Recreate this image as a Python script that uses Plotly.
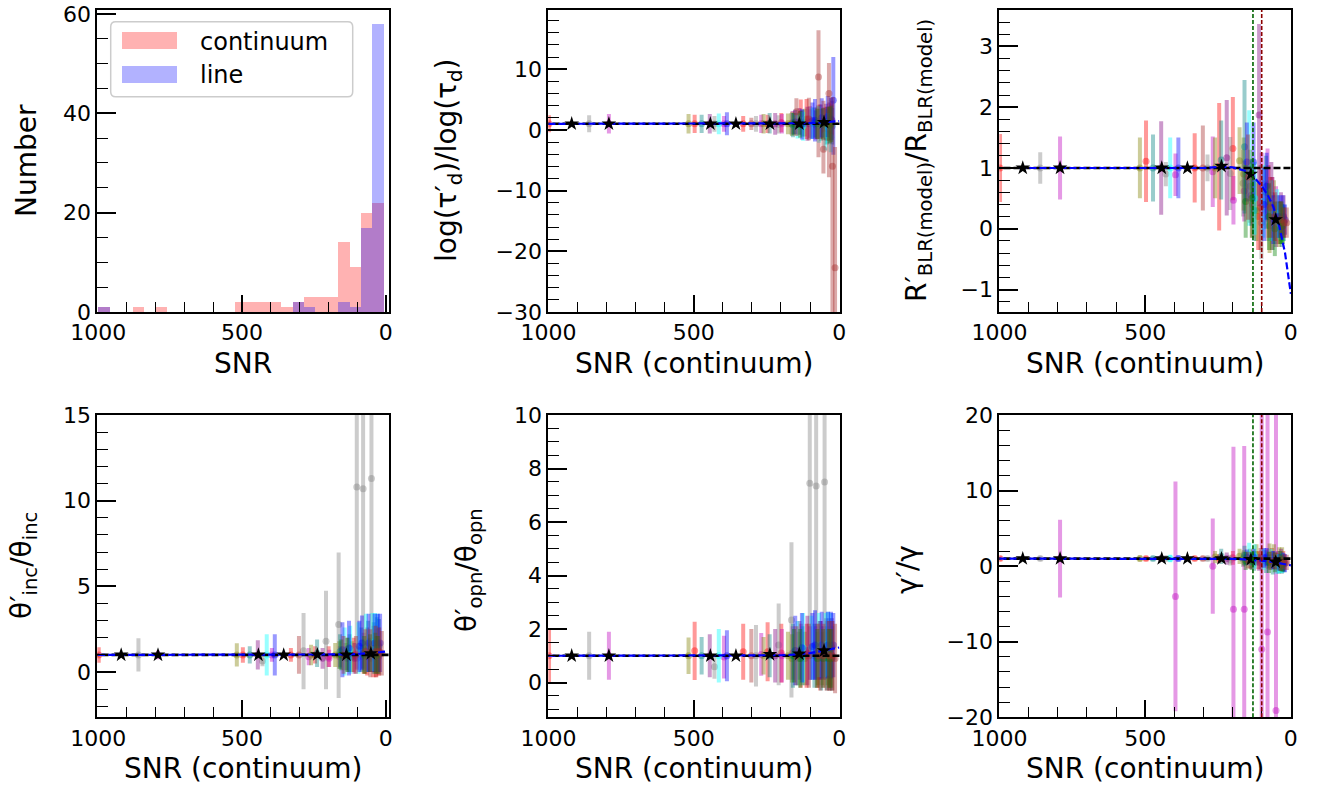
import plotly.graph_objects as go

# ---------------- data ----------------
snr_cont = [998, 860, 792, 518, 497, 473, 445, 429, 414, 396, 386, 330, 302, 286, 268, 260, 246, 239, 220, 208, 199, 197, 176,
            164, 160, 159, 155, 151, 147, 143, 140, 136, 132, 128, 126,
            124, 118, 112, 109, 104, 101, 100, 92,
            85, 83, 80, 79, 77, 75, 73, 71, 69, 67, 65, 62, 60, 58, 55, 54, 51, 50, 47,
            45, 43, 42, 40, 39, 38, 36, 35, 34, 33, 31, 30, 29, 28, 27, 26, 25, 24, 23, 20, 14,
            162, 134, 95, 63, 32]

snr_line = [995, 310, 295, 270, 150, 130, 100,
            84, 80, 77, 74, 71, 68, 66, 63, 61, 59, 57, 55, 53, 51, 49, 48, 46,
            45, 44, 44, 43, 42, 42, 41, 40, 40, 39, 38, 38, 37, 36, 36, 35, 34, 34, 33, 32,
            32, 31, 30, 30, 29, 28, 28, 27, 26, 26, 25, 24, 24, 23, 22, 22, 21, 20, 20, 19,
            18, 18, 17, 16, 16, 15, 14, 14, 13, 12, 12, 11, 10, 10, 9, 8, 8, 7]

point_color = ['red', 'gray', 'm', 'olive', 'red', 'teal', 'purple', 'gray', 'cyan', 'm', 'blue', 'red', 'brown', 'gray',
               'm', 'olive', 'red', 'teal', 'purple', 'gray', 'red', 'm', 'olive',
               'gray', 'm', 'teal', 'green', 'blue', 'brown', 'cyan', 'olive', 'purple', 'red', 'blue', 'teal',
               'cyan', 'olive', 'red', 'purple', 'brown', 'gray', 'm', 'blue',
               'teal', 'blue', 'm', 'gray', 'red', 'green', 'olive', 'brown', 'cyan', 'purple', 'red', 'teal', 'blue',
               'olive', 'green', 'brown', 'm', 'gray', 'cyan',
               'purple', 'red', 'teal', 'olive', 'blue', 'cyan', 'green', 'brown', 'purple', 'red', 'teal', 'olive',
               'cyan', 'blue', 'green', 'red', 'purple', 'teal', 'brown', 'blue', 'brown',
               'olive', 'green', 'cyan', 'purple', 'green']

# log(tau'_d)/log(tau_d)
p2_y = [1.0, 1.0, 1.0, 1.0, 1.0, 1.0, 1.0, 1.0, 1.0, 1.0, 1.0, 1.0, 1.0, 1.0, 1.0, 1.0, 1.0, 1.1, 1.0, 0.9, 1.2, 1.0, 1.0,
        1.0, 1.2, 0.8, 1.0, 1.3, 3.0, 0.7, 1.0, 1.4, 2.6, 0.9, 1.1,
        0.6, 1.2, 1.8, 1.0, 1.8, 1.0, 1.3, 1.5,
        1.2, 1.6, 0.8, 1.0, 1.1, 1.0, 1.3, 8.7, 0.9, 1.4, 1.0, 0.8, 2.0, 1.1, 1.0, -3.2, 1.2, 1.0, -0.8,
        1.3, 1.0, 0.5, 1.2, 2.2, 0.3, 1.0, 6.0, 1.5, 1.0, 0.7, 1.1, -1.2, 1.8, 1.0, 1.3, 1.6, 0.6, -6.0, 4.9, -22.7,
        1.0, 0.9, 1.1, 1.4, 0.8]
p2_lo = [1.4, 1.4, 1.6, 1.6, 1.5, 1.5, 1.6, 1.3, 1.7, 1.3, 1.9, 1.3, 1.0, 1.3, 1.5, 1.6, 1.5, 1.7, 1.8, 1.5, 1.6, 1.6, 1.7,
         1.8, 1.9, 2.0, 1.8, 2.0, 4.0, 2.1, 1.8, 2.2, 2.4, 2.5, 2.2,
         2.4, 2.3, 3.3, 2.8, 3.5, 2.4, 2.6, 3.0,
         2.5, 3.5, 2.4, 2.2, 2.6, 2.5, 2.7, 13.2, 3.0, 2.8, 2.5, 2.6, 3.2, 2.4, 2.6, 4.0, 2.5, 2.7, 2.6,
         3.0, 2.8, 2.9, 2.6, 3.4, 2.5, 2.8, 13.8, 3.0, 2.7, 3.0, 2.8, 2.5, 3.5, 3.0, 3.0, 3.2, 3.0, 25.0, 9.0, 10.0,
         2.0, 2.2, 2.6, 2.8, 3.0]
p2_hi = [1.4, 1.4, 1.6, 1.6, 1.5, 1.5, 1.6, 1.3, 1.7, 1.3, 1.9, 1.3, 1.0, 1.3, 1.5, 1.6, 1.5, 1.7, 1.8, 1.5, 1.6, 1.6, 1.7,
         1.8, 1.9, 2.0, 1.8, 2.0, 2.2, 2.1, 1.8, 2.2, 2.4, 2.5, 2.2,
         2.4, 2.3, 3.3, 2.8, 3.5, 2.4, 2.6, 3.0,
         2.5, 3.5, 2.4, 2.2, 2.6, 2.5, 2.7, 7.7, 3.0, 2.8, 2.5, 2.6, 3.2, 2.4, 2.6, 8.0, 2.5, 2.7, 2.6,
         3.0, 2.8, 2.9, 2.6, 3.4, 2.5, 2.8, 5.0, 3.0, 2.7, 3.0, 2.8, 2.5, 3.5, 3.0, 3.0, 3.2, 3.0, 11.4, 7.1, 19.9,
         2.0, 2.2, 2.6, 2.8, 3.0]

# R'_BLR / R_BLR
p3_y = [1.0, 1.0, 1.0, 1.0, 1.11, 1.0, 1.0, 0.9, 1.0, 0.89, 1.0, 1.0, 1.0, 1.0, 0.94, 1.0, 1.02, 1.13, 1.17, 0.91, 1.32, 0.47, 1.12,
        0.75, 0.62, 1.35, 0.45, 1.1, 0.85, 1.0, 0.7, 0.55, 0.4, 1.1, 0.3,
        0.5, 0.3, 0.2, 1.87, 0.35, 0.1, 0.75, 0.4,
        0.6, 0.7, 0.72, 0.3, 0.45, 0.2, 0.05, 0.35, 0.3, 0.55, 0.25, 0.1, 0.15, 0.3, 0.0, 0.2, 0.2, 0.1, 0.25,
        0.2, 0.1, 0.15, 0.05, 0.2, 0.12, 0.1, 0.15, 0.25, 0.1, 0.05, 0.15, 0.1, 0.2, 0.05, 0.12, 0.2, 0.1, 0.1, 0.15, 0.1,
        0.9, 0.5, 0.45, 0.35, 0.1]
p3_err = [0.56, 0.26, 0.52, 0.5, 0.67, 0.55, 0.77, 0.2, 0.5, 0.35, 0.5, 0.57, 0.7, 0.22, 0.58, 0.5, 1.05, 0.65, 0.95, 0.6, 0.85, 0.4, 0.55,
          0.55, 0.5, 1.1, 0.6, 0.65, 0.7, 0.95, 0.6, 0.5, 0.55, 0.65, 0.5,
          0.6, 0.5, 0.55, 1.5, 0.7, 0.6, 0.5, 0.6,
          0.6, 0.55, 0.6, 0.5, 0.6, 0.55, 0.45, 0.5, 0.5, 0.55, 0.6, 0.45, 0.4, 0.5, 0.45, 0.4, 0.5, 0.35, 0.4,
          0.35, 0.35, 0.3, 0.35, 0.35, 0.3, 0.35, 0.3, 0.35, 0.3, 0.35, 0.25, 0.3, 0.35, 0.3, 0.25, 0.35, 0.3, 0.25, 0.25, 0.25,
          0.6, 0.65, 0.6, 0.5, 0.35]

# theta'_inc / theta_inc
p4_y = [1.0, 1.0, 1.0, 1.0, 1.0, 1.0, 1.0, 0.64, 1.0, 1.0, 1.0, 1.0, 1.0, 1.24, 0.9, 1.0, 1.0, 1.1, 0.8, 1.8, 0.9, 0.8, 1.0,
        2.78, 0.9, 1.2, 1.0, 1.3, 1.0, 1.2, 0.9, 0.8, 1.0, 1.4, 1.1,
        1.3, 0.9, 1.0, 0.8, 1.0, 10.8, 0.8, 1.5,
        1.3, 1.7, 0.9, 10.7, 1.1, 1.0, 0.9, 1.2, 1.7, 0.9, 1.2, 1.5, 1.7, 1.0, 1.1, 1.1, 0.8, 11.3, 1.75,
        0.9, 1.2, 1.4, 1.0, 1.7, 1.75, 1.1, 1.2, 0.9, 1.1, 1.6, 1.0, 1.7, 1.7, 1.0, 1.2, 0.9, 1.5, 1.2, 1.7, 1.1,
        1.0, 1.0, 1.4, 0.9, 1.0]
p4_lo = [0.45, 0.97, 0.25, 0.68, 0.45, 0.5, 0.85, 0.3, 1.2, 0.4, 1.2, 0.4, 1.1, 2.24, 0.5, 0.6, 0.5, 0.8, 0.6, 2.8, 0.6, 0.5, 0.7,
         4.3, 0.6, 1.0, 0.9, 1.6, 1.1, 1.4, 0.8, 0.7, 1.0, 1.6, 1.1,
         1.4, 0.9, 1.0, 0.9, 1.1, 10.6, 0.7, 1.5,
         1.3, 1.6, 0.7, 10.5, 1.2, 1.1, 1.0, 1.3, 1.7, 0.8, 1.4, 1.5, 1.7, 1.0, 1.1, 1.4, 0.8, 10.7, 1.7,
         0.9, 1.5, 1.5, 1.0, 1.7, 1.7, 1.2, 1.5, 0.9, 1.4, 1.6, 1.0, 1.7, 1.7, 1.1, 1.4, 0.9, 1.6, 1.4, 1.7, 1.3,
         0.8, 1.0, 1.5, 0.9, 1.1]
p4_hi = [0.45, 0.97, 0.25, 0.68, 0.45, 0.5, 0.85, 0.3, 1.2, 0.4, 1.2, 0.4, 1.1, 2.2, 0.5, 0.6, 0.5, 0.8, 0.6, 2.95, 0.6, 0.5, 0.7,
         4.2, 0.6, 1.0, 0.9, 1.6, 1.1, 1.4, 0.8, 0.7, 1.0, 1.6, 1.1,
         1.4, 0.9, 1.0, 0.9, 1.1, 8.0, 0.7, 1.5,
         1.3, 1.6, 0.7, 8.0, 1.2, 1.1, 1.0, 1.3, 1.7, 0.8, 1.4, 1.5, 1.7, 1.0, 1.1, 1.4, 0.8, 8.0, 1.7,
         0.9, 1.5, 1.5, 1.0, 1.7, 1.7, 1.2, 1.5, 0.9, 1.4, 1.6, 1.0, 1.7, 1.7, 1.1, 1.4, 0.9, 1.6, 1.4, 1.7, 1.3,
         0.8, 1.0, 1.5, 0.9, 1.1]

# theta'_opn / theta_opn
p5_y = [1.0, 1.0, 1.0, 1.0, 1.19, 1.0, 1.0, 0.59, 1.0, 0.95, 1.0, 1.15, 1.0, 1.0, 1.05, 1.0, 1.15, 1.0, 1.0, 1.4, 1.1, 1.0, 1.0,
        2.34, 1.1, 1.0, 1.0, 1.2, 1.0, 1.1, 0.9, 1.2, 1.0, 1.3, 1.0,
        1.3, 0.9, 1.0, 1.2, 1.0, 7.45, 1.1, 1.35,
        1.0, 1.4, 1.1, 7.35, 1.0, 0.9, 0.9, 1.0, 1.4, 1.2, 1.0, 0.9, 1.4, 0.9, 0.9, 1.0, 1.1, 7.5, 1.4,
        1.3, 1.0, 0.9, 0.9, 1.4, 1.45, 0.9, 1.0, 1.3, 1.0, 0.9, 0.9, 1.4, 1.4, 0.9, 1.0, 1.3, 0.9, 1.0, 1.4, 0.9,
        0.9, 0.9, 1.3, 1.2, 0.9]
p5_lo = [1.0, 0.9, 0.9, 0.68, 1.1, 0.7, 0.8, 0.45, 1.0, 0.8, 0.95, 1.05, 1.0, 1.15, 0.8, 0.7, 1.1, 0.8, 1.0, 1.5, 1.1, 1.0, 0.9,
         2.9, 1.0, 1.2, 1.0, 1.3, 1.1, 1.2, 1.0, 1.1, 1.2, 1.3, 1.1,
         1.3, 1.0, 1.2, 1.3, 1.2, 7.35, 1.0, 1.25,
         1.2, 1.3, 1.0, 7.2, 1.2, 1.1, 1.0, 1.2, 1.2, 1.1, 1.3, 1.2, 1.25, 1.0, 1.1, 1.2, 1.0, 7.4, 1.2,
         1.1, 1.3, 1.2, 1.0, 1.25, 1.2, 1.1, 1.3, 1.1, 1.3, 1.2, 1.0, 1.2, 1.25, 1.1, 1.3, 1.1, 1.2, 1.3, 1.2, 1.3,
         0.9, 1.1, 1.2, 1.1, 1.1]
p5_hi = [1.0, 0.9, 0.9, 0.68, 1.08, 0.7, 0.8, 0.45, 1.0, 0.8, 0.95, 1.05, 1.0, 1.15, 0.8, 0.7, 1.1, 0.8, 1.0, 1.55, 1.1, 1.0, 0.9,
         2.9, 1.0, 1.2, 1.0, 1.3, 1.1, 1.2, 1.0, 1.1, 1.2, 1.3, 1.1,
         1.3, 1.0, 1.2, 1.3, 1.2, 4.0, 1.0, 1.25,
         1.2, 1.3, 1.0, 4.0, 1.2, 1.1, 1.0, 1.2, 1.2, 1.1, 1.3, 1.2, 1.25, 1.0, 1.1, 1.2, 1.0, 4.0, 1.2,
         1.1, 1.3, 1.2, 1.0, 1.25, 1.2, 1.1, 1.3, 1.1, 1.3, 1.2, 1.0, 1.2, 1.25, 1.1, 1.3, 1.1, 1.2, 1.3, 1.2, 1.3,
         0.9, 1.1, 1.2, 1.1, 1.1]

# gamma' / gamma
p6_y = [1.0, 1.0, 1.0, 1.0, 1.0, 1.0, 1.0, 1.0, 1.0, -4.0, 1.0, 1.0, 1.0, 1.0, 0.0, 1.2, 1.0, 1.3, 1.0, 0.8, 1.1, -5.7, 1.3,
        0.9, -5.7, 1.4, 0.7, 1.2, 0.8, 1.6, 1.0, 0.6, 0.9, 1.2, 0.7,
        1.3, 1.5, 0.8, 0.5, 1.0, 0.9, -11.0, 1.1,
        0.6, 1.2, -8.7, 0.8, 1.0, 0.5, 1.4, 0.7, 0.9, 0.6, 1.1, 0.4, 0.8, 1.3, 0.5, 0.7, -19.1, 0.6, 0.3,
        0.8, 0.6, 0.2, 1.0, 0.5, 0.3, 0.7, 0.4, 0.9, 0.5, 0.2, 0.9, 0.4, 0.6, 0.3, 0.7, 0.5, 0.3, 0.6, 0.4, 0.5,
        1.1, 0.7, 0.9, 0.8, 0.4]
p6_lo = [0.3, 0.3, 5.15, 0.4, 0.3, 0.3, 0.4, 0.3, 0.5, 15.2, 0.4, 0.3, 0.3, 0.3, 6.3, 0.8, 0.6, 1.0, 0.8, 0.7, 0.9, 21.5, 1.0,
         1.0, 21.6, 1.3, 1.2, 1.0, 1.1, 1.5, 1.3, 1.0, 1.2, 1.1, 1.3,
         1.6, 1.4, 1.2, 1.1, 1.4, 1.2, 35.0, 1.3,
         1.5, 1.2, 32.0, 1.1, 1.3, 1.4, 1.6, 1.2, 1.4, 1.0, 1.3, 1.5, 1.2, 1.6, 1.3, 1.1, 5.0, 1.2, 1.3,
         1.2, 1.1, 1.2, 1.5, 1.1, 1.2, 1.3, 1.0, 1.4, 1.1, 1.2, 1.6, 1.3, 1.2, 1.0, 1.3, 1.2, 1.1, 1.0, 1.2, 1.0,
         1.0, 1.2, 1.4, 1.2, 1.1]
p6_hi = [0.3, 0.3, 5.15, 0.4, 0.3, 0.3, 0.4, 0.3, 0.5, 15.2, 0.4, 0.3, 0.3, 0.3, 6.3, 0.8, 0.6, 1.0, 0.8, 0.7, 0.9, 21.5, 1.0,
         1.0, 21.6, 1.3, 1.2, 1.0, 1.1, 1.5, 1.3, 1.0, 1.2, 1.1, 1.3,
         1.6, 1.4, 1.2, 1.1, 1.4, 1.2, 35.0, 1.3,
         1.5, 1.2, 32.0, 1.1, 1.3, 1.4, 1.6, 1.2, 1.4, 1.0, 1.3, 1.5, 1.2, 1.6, 1.3, 1.1, 40.0, 1.2, 1.3,
         1.2, 1.1, 1.2, 1.5, 1.1, 1.2, 1.3, 1.0, 1.4, 1.1, 1.2, 1.6, 1.3, 1.2, 1.0, 1.3, 1.2, 1.1, 1.0, 1.2, 1.0,
         1.0, 1.2, 1.4, 1.2, 1.1]

# binned means (black stars)
star_x = [920, 792, 443, 355, 238, 137, 52]
p2_star = [1.0, 1.0, 1.0, 1.0, 1.0, 1.0, 1.25]
p3_star = [1.0, 1.0, 1.0, 1.0, 1.03, 0.9, 0.15]
p4_star = [1.0, 1.0, 1.0, 1.0, 1.02, 1.0, 1.08]
p5_star = [1.0, 1.0, 1.0, 1.0, 1.05, 1.07, 1.19]
p6_star = [1.0, 1.0, 1.0, 1.0, 1.0, 0.9, 0.55]

# fitted trends (blue dashed)
fit_x = [1000, 800, 600, 400, 300, 240, 200, 160, 130, 100, 80, 60, 40, 20, 0]
p2_fit = [1.0, 1.0, 1.0, 1.0, 1.0, 1.0, 1.02, 1.04, 1.06, 1.1, 1.14, 1.2, 1.28, 1.36, 1.45]
p3_fit = [1.0, 1.0, 1.0, 1.0, 1.0, 1.02, 1.01, 0.96, 0.87, 0.7, 0.56, 0.36, 0.05, -0.4, -1.07]
p4_fit = [1.0, 1.0, 1.0, 1.0, 1.0, 1.0, 1.01, 1.02, 1.03, 1.05, 1.07, 1.1, 1.13, 1.16, 1.2]
p5_fit = [1.0, 1.0, 1.0, 1.0, 1.0, 1.01, 1.02, 1.04, 1.06, 1.1, 1.14, 1.19, 1.23, 1.27, 1.31]
p6_fit = [1.0, 1.0, 1.0, 1.0, 0.99, 0.97, 0.95, 0.9, 0.84, 0.75, 0.66, 0.55, 0.42, 0.27, 0.1]

ref_value = 1.0
snr_limits = [130, 100]   # green, dark red vertical markers

# ---------------- styling ----------------
W, H = 1319, 787
FONT = "DejaVu Sans"


def px(x):
    return x / W


def py(y):
    return 1 - y / H


COLS = [(97.3, 389.0), (548.3, 840.0), (999.3, 1291.0)]
ROWS = [(10.0, 312.0), (415.0, 717.3)]
XRANGES = [[1003, -11], [1000.5, -3], [1000.5, -0.5]]

RGB = {'red': (255, 0, 0), 'gray': (128, 128, 128), 'm': (191, 0, 191), 'olive': (128, 128, 0),
       'teal': (0, 128, 128), 'purple': (128, 0, 128), 'cyan': (0, 255, 255), 'blue': (0, 0, 255),
       'green': (0, 128, 0), 'brown': (165, 42, 42)}
COLOR_ORDER = ['red', 'gray', 'm', 'olive', 'teal', 'purple', 'cyan', 'blue', 'green', 'brown']


def rgba(name, a):
    r, g, b = RGB[name]
    return f"rgba({r},{g},{b},{a})"


fig = go.Figure()

# ---- panel 1: histograms ----
bins = dict(start=5.8, end=998.3, size=39.7)
fig.add_trace(go.Histogram(x=snr_cont, xbins=bins, name='continuum', xaxis='x', yaxis='y',
                           marker=dict(color='rgba(255,0,0,0.3)', line=dict(width=0)), showlegend=False))
fig.add_trace(go.Histogram(x=snr_line, xbins=bins, name='line', xaxis='x', yaxis='y',
                           marker=dict(color='rgba(0,0,255,0.3)', line=dict(width=0)), showlegend=False))

panels = [
    (2, p2_y, p2_lo, p2_hi, p2_star, p2_fit),
    (3, p3_y, p3_err, p3_err, p3_star, p3_fit),
    (4, p4_y, p4_lo, p4_hi, p4_star, p4_fit),
    (5, p5_y, p5_lo, p5_hi, p5_star, p5_fit),
    (6, p6_y, p6_lo, p6_hi, p6_star, p6_fit),
]

DASH = "7px,3px"
for k, ys, lo, hi, stars, fit in panels:
    xa, ya = f"x{k}", f"y{k}"
    for cname in COLOR_ORDER:
        idx = [i for i, c in enumerate(point_color) if c == cname]
        if not idx:
            continue
        fig.add_trace(go.Scatter(
            x=[snr_cont[i] for i in idx], y=[ys[i] for i in idx], mode='markers',
            xaxis=xa, yaxis=ya, showlegend=False, cliponaxis=True,
            marker=dict(size=7, color=rgba(cname, 0.4), line=dict(width=0)),
            error_y=dict(type='data', symmetric=False, array=[hi[i] for i in idx],
                         arrayminus=[lo[i] for i in idx], color=rgba(cname, 0.4),
                         thickness=4, width=0)))
    xr = XRANGES[(k - 1) % 3]
    fig.add_trace(go.Scatter(x=[xr[0] + 20, xr[1] - 20], y=[ref_value, ref_value], mode='lines',
                             xaxis=xa, yaxis=ya, showlegend=False,
                             line=dict(color='black', width=2.6, dash=DASH)))
    fig.add_trace(go.Scatter(x=fit_x, y=fit, mode='lines', xaxis=xa, yaxis=ya, showlegend=False,
                             line=dict(color='blue', width=2.2, dash=DASH)))
    fig.add_trace(go.Scatter(x=star_x, y=stars, mode='markers', xaxis=xa, yaxis=ya, showlegend=False,
                             marker=dict(symbol='star', size=11, color='black', line=dict(width=0))))

# vertical SNR markers in panels 3 and 6
for k in (3, 6):
    for xv, col in zip(snr_limits, ['darkgreen', 'darkred']):
        fig.add_shape(type='line', xref=f'x{k}', yref=f'y{k} domain', x0=xv, x1=xv, y0=0, y1=1,
                      line=dict(color=col, width=1.6, dash="4px,2px"), layer='above')

# ---------------- axes ----------------
YRANGES = {1: [0, 60.8], 2: [-30, 19.75], 3: [-1.37, 3.6], 4: [-2.64, 15], 5: [-1.3, 10], 6: [-20, 20]}
YTICK = {1: (20, 5), 2: (10, 2), 3: (1, 0.2), 4: (5, 1), 5: (2, 0.5), 6: (10, 2)}
TICKFONT = 22
TITLEFONT = 28

layout = {}
for k in range(1, 7):
    col, row = (k - 1) % 3, (k - 1) // 3
    sfx = '' if k == 1 else str(k)
    common = dict(showline=True, linecolor='black', linewidth=2, mirror=True, ticks='inside',
                  tickcolor='black', tickwidth=1.6, showgrid=False, zeroline=False, automargin=False,
                  tickfont=dict(family=FONT, size=TICKFONT, color='black'))
    layout['xaxis' + sfx] = dict(
        domain=[px(COLS[col][0]), px(COLS[col][1])], range=XRANGES[col], anchor='y' + sfx,
        tickmode='linear', tick0=0, dtick=500, ticklen=17,
        minor=dict(ticks='inside', ticklen=10, tickwidth=1.4, tickcolor='black', tick0=0, dtick=100),
        **common)
    major, minor = YTICK[k]
    layout['yaxis' + sfx] = dict(
        domain=[py(ROWS[row][1]), py(ROWS[row][0])], range=YRANGES[k], anchor='x' + sfx,
        tickmode='linear', tick0=0, dtick=major, ticklen=19,
        minor=dict(ticks='inside', ticklen=11, tickwidth=1.4, tickcolor='black', tick0=0, dtick=minor),
        **common)

annotations = []
# x titles
for k in range(1, 7):
    col, row = (k - 1) % 3, (k - 1) // 3
    cx = (COLS[col][0] + COLS[col][1]) / 2
    cy = 363 if row == 0 else 768.5
    annotations.append(dict(text='SNR' if k == 1 else 'SNR (continuum)', x=px(cx), y=py(cy),
                            xref='paper', yref='paper', xanchor='center', yanchor='middle',
                            showarrow=False, font=dict(family=FONT, size=TITLEFONT, color='black')))
# y titles
ytitles = [
    ('Number', 26, 161),
    ('log(τ′<sub>d</sub>)/log(τ<sub>d</sub>)', 448, 161),
    ('R′<sub>BLR(model)</sub>/R<sub>BLR(model)</sub>', 918, 161),
    ('θ′<sub>inc</sub>/θ<sub>inc</sub>', 23, 566),
    ('θ′<sub>opn</sub>/θ<sub>opn</sub>', 468, 570),
    ('γ′/γ', 907, 570),
]
for text, cx, cy in ytitles:
    annotations.append(dict(text=text, x=px(cx), y=py(cy), xref='paper', yref='paper',
                            xanchor='center', yanchor='middle', textangle=-90, showarrow=False,
                            font=dict(family=FONT, size=TITLEFONT, color='black')))

# legend (panel 1)
x0, y0, x1, y1, r = 110.7, 21.7, 352.7, 96.7, 5
path = (f"M {px(x0 + r)},{py(y0)} L {px(x1 - r)},{py(y0)} Q {px(x1)},{py(y0)} {px(x1)},{py(y0 + r)} "
        f"L {px(x1)},{py(y1 - r)} Q {px(x1)},{py(y1)} {px(x1 - r)},{py(y1)} "
        f"L {px(x0 + r)},{py(y1)} Q {px(x0)},{py(y1)} {px(x0)},{py(y1 - r)} "
        f"L {px(x0)},{py(y0 + r)} Q {px(x0)},{py(y0)} {px(x0 + r)},{py(y0)} Z")
fig.add_shape(type='path', path=path, xref='paper', yref='paper',
              fillcolor='rgba(255,255,255,0.8)', line=dict(color='#cccccc', width=1.5), layer='above')
for (pt, pb, color, label, cyl) in [(32, 49, 'rgba(255,0,0,0.3)', 'continuum', 41.5),
                                    (66, 83, 'rgba(0,0,255,0.3)', 'line', 75)]:
    fig.add_shape(type='rect', xref='paper', yref='paper', x0=px(122), x1=px(177), y0=py(pb), y1=py(pt),
                  fillcolor=color, line=dict(width=0), layer='above')
    annotations.append(dict(text=label, x=px(198), y=py(cyl), xref='paper', yref='paper',
                            xanchor='left', yanchor='middle', showarrow=False,
                            font=dict(family=FONT, size=24, color='black')))

fig.update_layout(
    width=W, height=H, margin=dict(l=0, r=0, t=0, b=0),
    paper_bgcolor='white', plot_bgcolor='white',
    barmode='overlay', bargap=0, showlegend=False,
    annotations=annotations, font=dict(family=FONT, color='black'),
    **layout)

fig.write_html("out.html")
